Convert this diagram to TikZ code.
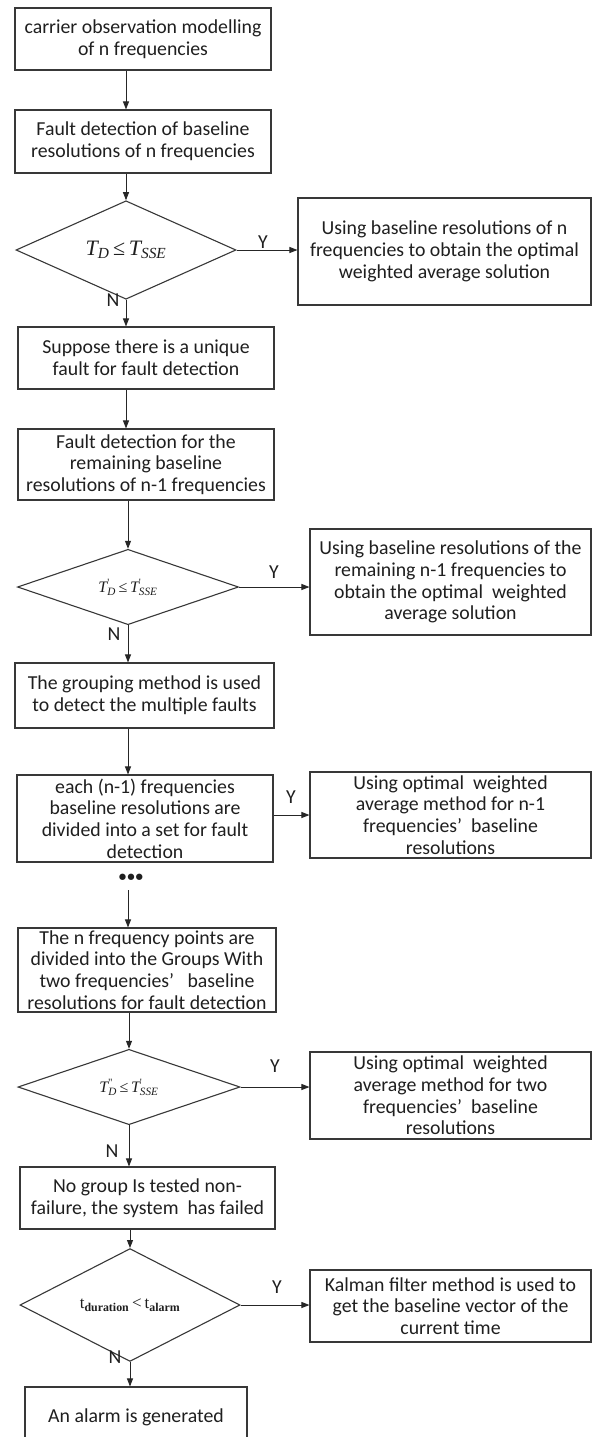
\documentclass[tikz,border=0pt]{standalone}
\usepackage{fontspec}
\setmainfont{Carlito}
\newfontfamily\tnr{Liberation Serif}
\usetikzlibrary{shapes.geometric,arrows.meta}
\begin{document}
\begin{tikzpicture}[x=1pt,y=-1pt,
  box/.style={draw=black!78, line width=1.1pt, rectangle, inner sep=1pt, align=center, text=black!88, font=\fontsize{19.8}{21.7}\selectfont},
  dec/.style={draw=black!78, line width=1.1pt, shape=diamond, inner sep=0pt, text=black!88},
  arr/.style={draw=black!85, line width=0.9pt, -{Triangle[length=8pt,width=6pt]}},
  lbl/.style={text=black!88, font=\fontsize{19.8}{21}\selectfont, inner sep=0pt}]
\useasboundingbox (0,0) rectangle (593,1437);
\clip (0,0) rectangle (593,1437);
\fill[white] (0,0) rectangle (593,1437);

% left column
\node[box, minimum width=256pt, minimum height=62pt] (b1) at (143,39) {carrier observation modelling\\of n frequencies};
\node[box, minimum width=256pt, minimum height=63pt] (b2) at (143,141.5) {Fault detection of baseline\\resolutions of n frequencies};
\node[dec, minimum width=220pt, minimum height=70pt] (d1) at (126,250) {\tnr\fontsize{22}{22}\selectfont\itshape T\textsubscript{D}\,\upshape≤\,\itshape T\textsubscript{SSE}};
\node[box, minimum width=256pt, minimum height=62pt] (b3) at (146,358) {Suppose there is a unique\\fault for fault detection};
\node[box, minimum width=256pt, minimum height=71pt] (b4) at (146,464.5) {Fault detection for the\\remaining baseline\\resolutions of n-1 frequencies};
\node[dec, minimum width=221pt, minimum height=69pt] (d2) at (128,587) {\tnr\fontsize{16}{16}\selectfont\itshape T\rlap{\textsuperscript{\upshape'}}\textsubscript{D}\,\upshape≤\,\itshape T\rlap{\textsuperscript{\upshape'}}\textsubscript{SSE}};
\node[box, minimum width=259pt, minimum height=65pt] (b5) at (144.5,695.5) {The grouping method is used\\to detect the multiple faults};
\node[box, minimum width=256pt, minimum height=87pt] (b6) at (145,818.5) {each (n-1) frequencies\\baseline resolutions are\\divided into a set for fault\\detection};
\node[inner sep=0pt, font=\fontsize{15}{15}\selectfont\bfseries, text=black!88] (dots) at (131,878) {•\kern1pt•\kern1pt•};
\coordinate (dtail) at (128,890);
\node[box, minimum width=258pt, minimum height=84pt] (b7) at (147,970) {The n frequency points are\\divided into the Groups With\\two frequencies’\ \ \ baseline\\resolutions for fault detection};
\node[dec, minimum width=222pt, minimum height=62pt] (d3) at (129,1087) {\tnr\fontsize{16}{16}\selectfont\itshape T\rlap{\textsuperscript{\upshape''}}\textsubscript{D}\,\upshape≤\,\itshape T\rlap{\textsuperscript{\upshape'}}\textsubscript{SSE}};
\node[box, minimum width=255pt, minimum height=62pt] (b8) at (147.5,1198) {No group Is tested non-\\failure, the system\ \ has failed};
\node[dec, minimum width=220pt, minimum height=84pt] (d4) at (130,1305) {\tnr\fontsize{17}{17}\selectfont t\textsubscript{\bfseries duration}\,<\,t\textsubscript{\bfseries alarm}};
\node[box, minimum width=222pt, minimum height=60pt] (b9) at (136,1417) {An alarm is generated};

% right column
\node[box, minimum width=293pt, minimum height=107pt] (r1) at (444.5,251.5) {Using baseline resolutions of n\\frequencies to obtain the optimal\\weighted average solution};
\node[box, minimum width=281pt, minimum height=106pt] (r2) at (450.5,582) {Using baseline resolutions of the\\remaining n-1 frequencies to\\obtain the optimal\ \ weighted\\average solution};
\node[box, minimum width=281pt, minimum height=86pt] (r3) at (450.5,815) {Using optimal\ \ weighted\\average method for n-1\\frequencies'\ \ baseline\\resolutions};
\node[box, minimum width=281pt, minimum height=87pt] (r4) at (450.5,1095.5) {Using optimal\ \ weighted\\average method for two\\frequencies'\ \ baseline\\resolutions};
\node[box, minimum width=281pt, minimum height=72pt] (r5) at (450.5,1306) {Kalman filter method is used to\\get the baseline vector of the\\current time};

% connectors
\draw[arr] (b1.south -| d1.center) -- (b2.north -| d1.center);
\draw[arr] (b2.south -| d1.center) -- (d1.north);
\draw[arr] (d1.east) -- (r1.west |- d1.east);
\draw[arr] (d1.south) -- (b3.north -| d1.center);
\draw[arr] (b3.south -| d1.center) -- (b4.north -| d1.center);
\draw[arr] (b4.south -| d2.center) -- (d2.north);
\draw[arr] (d2.east) -- (r2.west |- d2.east);
\draw[arr] (d2.south) -- (b5.north -| d2.center);
\draw[arr] (b5.south -| d2.center) -- (b6.north -| d2.center);
\draw[arr] (b6.east |- r3.west) -- (r3.west);
\draw[arr] (dtail) -- (b7.north -| dtail);
\draw[arr] (b7.south -| d3.center) -- (d3.north);
\draw[arr] (d3.east) -- (r4.west |- d3.east);
\draw[arr] (d3.south) -- (b8.north -| d3.center);
\draw[arr] (b8.south -| d4.center) -- (d4.north);
\draw[arr] (d4.east) -- (r5.west |- d4.east);
\draw[arr] (d4.south) -- (b9.north -| d4.center);

% labels
\node[lbl] (y1) at (263,242) {Y};
\node[lbl] (n1) at (113,300) {N};
\node[lbl] (y2) at (274,572) {Y};
\node[lbl] (n2) at (114,634) {N};
\node[lbl] (y3) at (291,797) {Y};
\node[lbl] (y4) at (275,1066) {Y};
\node[lbl] (n3) at (112,1151) {N};
\node[lbl] (y5) at (277,1287) {Y};
\node[lbl] (n4) at (115,1357) {N};
\end{tikzpicture}
\end{document}
